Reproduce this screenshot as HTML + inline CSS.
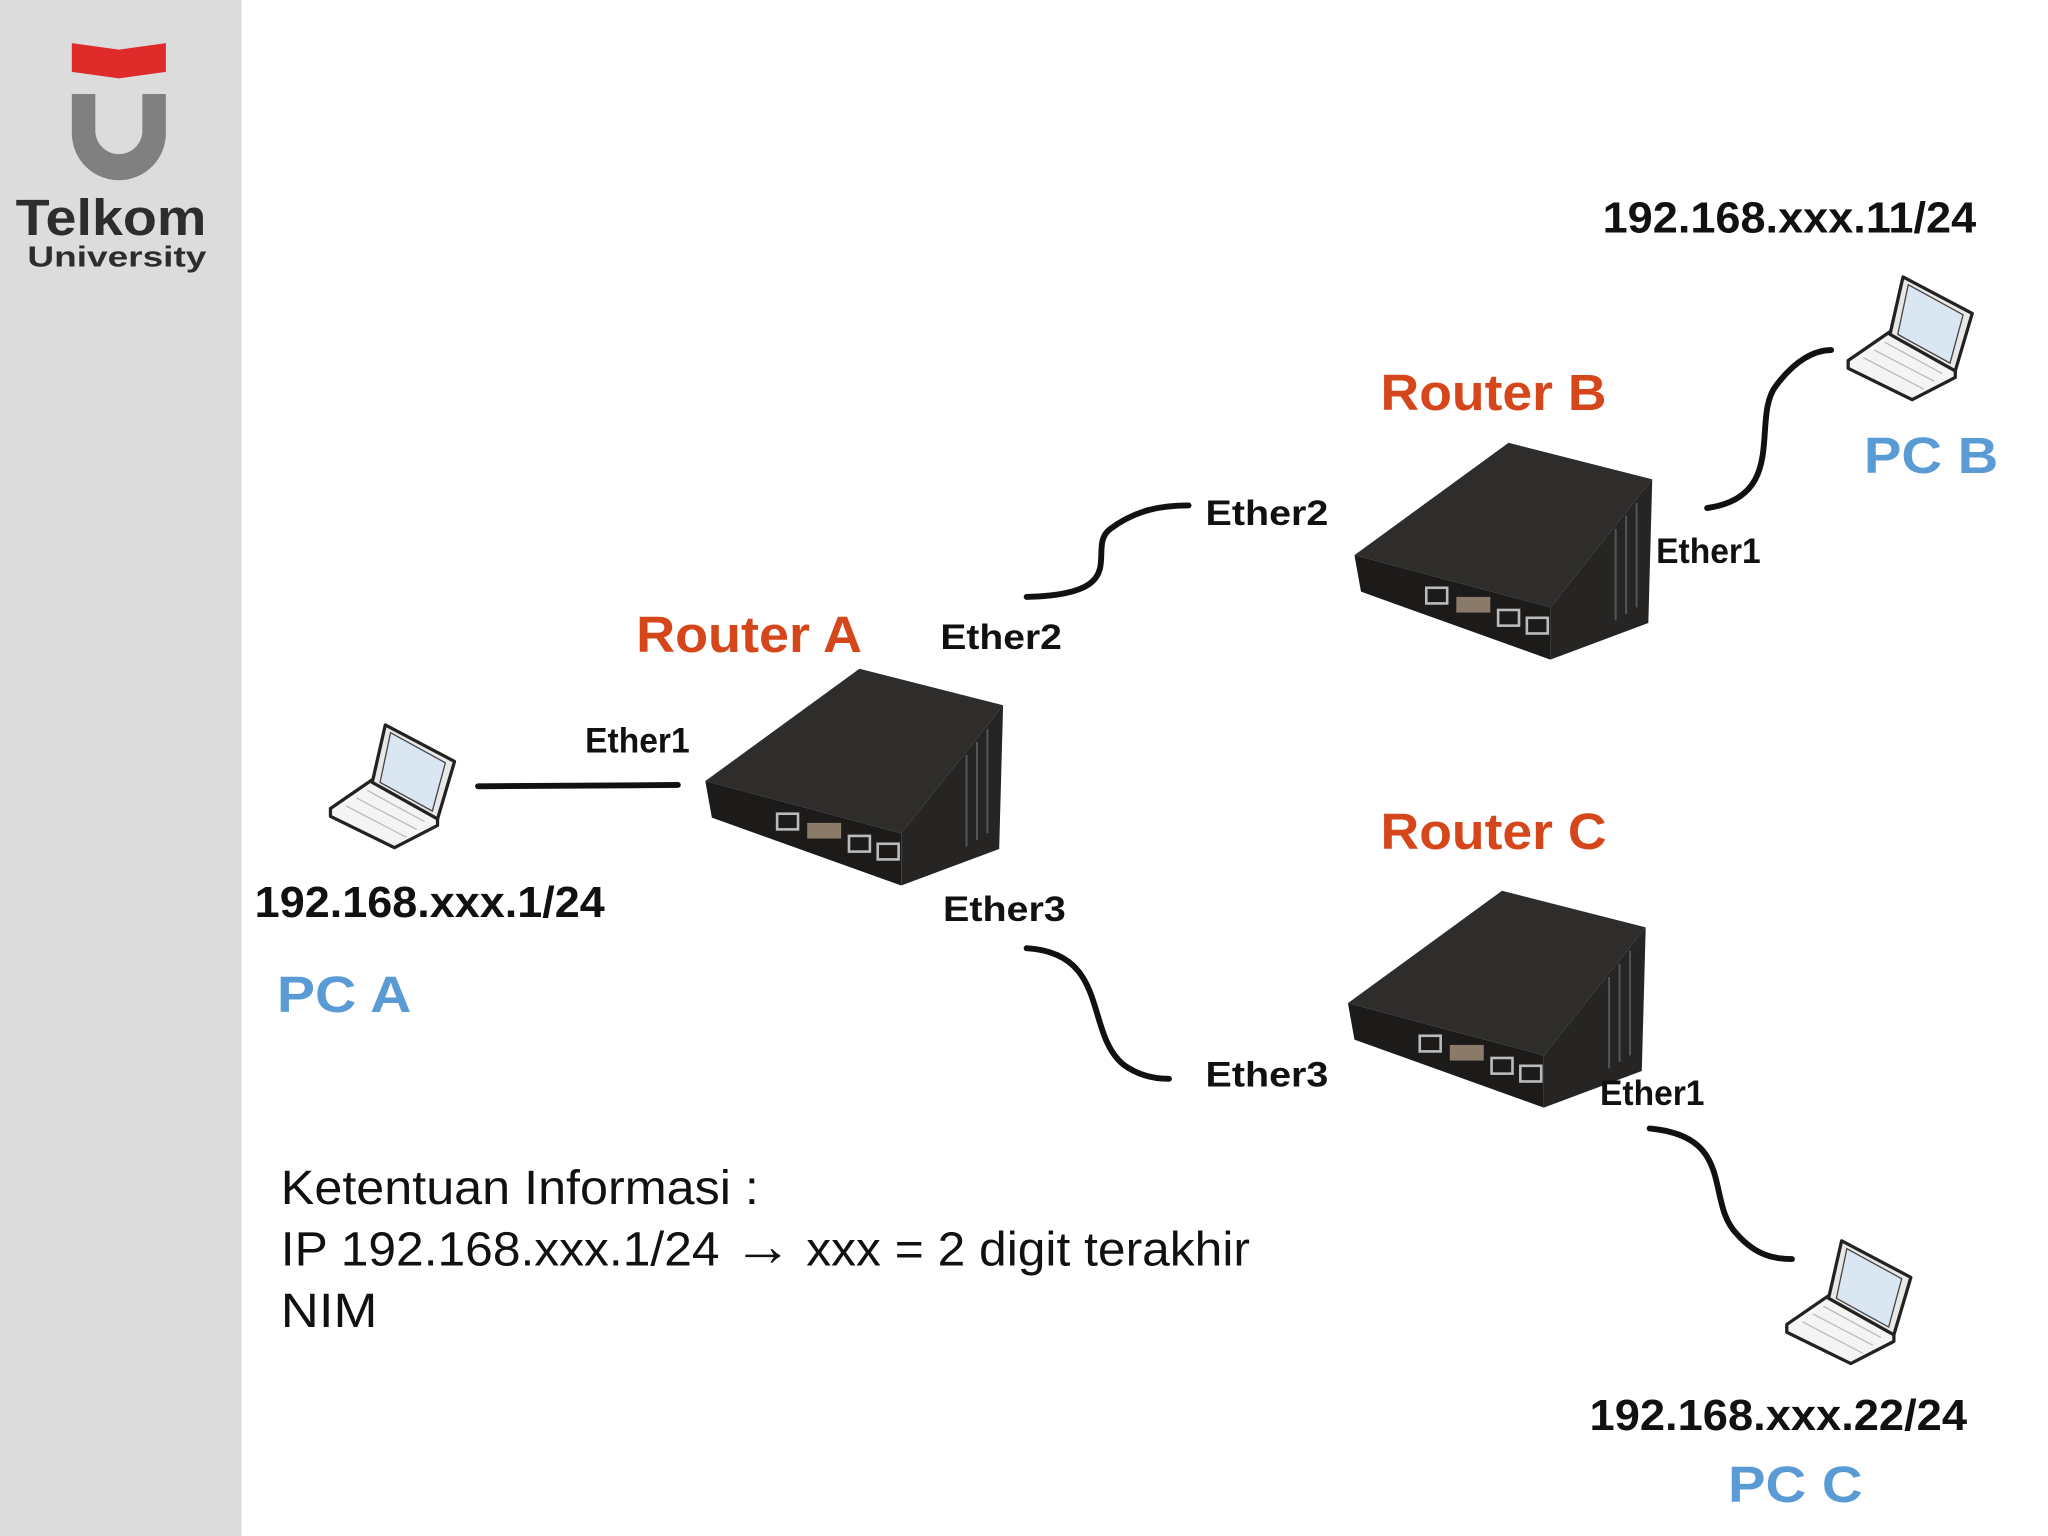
<!DOCTYPE html>
<html><head><meta charset="utf-8"><style>html,body{margin:0;padding:0;background:#fff}svg{display:block}</style></head>
<body>
<svg width="2048" height="1536" viewBox="0 0 1568 1176" xmlns="http://www.w3.org/2000/svg" font-family="Liberation Sans, Arial, sans-serif" xml:space="preserve">
<defs>
<g id="router">
  <polygon points="0,0 118,-86 228,-58 150,40" fill="#2e2d2b"/>
  <polygon points="0,0 150,40 150,80 5,28" fill="#1c1b1a"/>
  <polygon points="150,40 228,-58 225,52 150,80" fill="#262524"/>
  <g fill="none" stroke="#bbb" stroke-width="2">
    <rect x="55" y="25" width="16" height="12"/>
    <rect x="110" y="42" width="16" height="12"/>
    <rect x="132" y="48" width="16" height="12"/>
  </g>
  <rect x="78" y="32" width="26" height="12" fill="#8a7a6a"/>
  <g stroke="#555" stroke-width="1.5">
    <line x1="200" y1="-20" x2="200" y2="50"/><line x1="208" y1="-30" x2="208" y2="45"/><line x1="216" y1="-40" x2="216" y2="40"/>
  </g>
</g>
<g id="laptop">
  <polygon points="0,66 32,44 82,71 82,79 49,96 0,72" fill="#f4f4f4" stroke="#222" stroke-width="2.5" stroke-linejoin="round"/>
  <polygon points="42,2 95,30 82,74 32,46" fill="#e8e8e8" stroke="#222" stroke-width="2.5" stroke-linejoin="round"/>
  <polygon points="46,8 88,31 78,68 38,46" fill="#dbe6f3" stroke="#444" stroke-width="1"/>
  <g stroke="#bbb" stroke-width="1"><line x1="12" y1="64" x2="58" y2="88"/><line x1="20" y1="58" x2="66" y2="82"/><line x1="28" y1="52" x2="72" y2="76"/></g>
</g>
</defs>
<rect x="0" y="0" width="185" height="1176" fill="#dcdcdc"/>
<polygon points="55,33 91,38 127,33 127,55 91,60 55,55" fill="#e02b2b"/>
<path d="M55,72 H73 V100 A18,18 0 0 0 109,100 V72 H127 V102 A36,36 0 0 1 55,102 Z" fill="#808080"/>
<text x="12" y="180" font-size="39" font-weight="bold" fill="#2d2d2d" textLength="146" lengthAdjust="spacingAndGlyphs">Telkom</text>
<text x="21" y="204" font-size="22" font-weight="bold" fill="#2d2d2d" textLength="137" lengthAdjust="spacingAndGlyphs">University</text>
<g fill="none" stroke="#111" stroke-width="4.5" stroke-linecap="round">
  <line x1="366" y1="602" x2="519" y2="601"/>
  <path d="M786,457 C870,455 830,420 850,405 C870,390 890,387 910,387"/>
  <path d="M786,726 C850,730 830,790 860,815 C875,826 890,826 895,826"/>
  <path d="M1307,389 C1370,380 1340,320 1360,295 C1375,275 1390,268 1402,268"/>
  <path d="M1263,864 C1330,870 1305,920 1330,945 C1345,962 1360,964 1372,964"/>
</g>
<use href="#router" transform="translate(540,598)"/>
<use href="#router" transform="translate(1037,425)"/>
<use href="#router" transform="translate(1032,768)"/>
<use href="#laptop" transform="translate(253,553)"/>
<use href="#laptop" transform="translate(1415,210)"/>
<use href="#laptop" transform="translate(1368,948)"/>
<g font-weight="bold" fill="#d5471a" font-size="39">
  <text x="487" y="499" textLength="173" lengthAdjust="spacingAndGlyphs">Router  A</text>
  <text x="1057" y="314" textLength="173" lengthAdjust="spacingAndGlyphs">Router  B</text>
  <text x="1057" y="650" textLength="173" lengthAdjust="spacingAndGlyphs">Router  C</text>
</g>
<g font-weight="bold" fill="#111" font-size="27">
  <text x="448" y="576" textLength="80" lengthAdjust="spacingAndGlyphs">Ether1</text>
  <text x="720" y="497" textLength="93" lengthAdjust="spacingAndGlyphs">Ether2</text>
  <text x="923" y="402" textLength="94" lengthAdjust="spacingAndGlyphs">Ether2</text>
  <text x="1268" y="431" textLength="80" lengthAdjust="spacingAndGlyphs">Ether1</text>
  <text x="722" y="705" textLength="94" lengthAdjust="spacingAndGlyphs">Ether3</text>
  <text x="923" y="832" textLength="94" lengthAdjust="spacingAndGlyphs">Ether3</text>
  <text x="1225" y="846" textLength="80" lengthAdjust="spacingAndGlyphs">Ether1</text>
</g>
<g font-weight="bold" fill="#111" font-size="33">
  <text x="195" y="702" textLength="268" lengthAdjust="spacingAndGlyphs">192.168.xxx.1/24</text>
  <text x="1227" y="178" textLength="286" lengthAdjust="spacingAndGlyphs">192.168.xxx.11/24</text>
  <text x="1217" y="1095" textLength="289" lengthAdjust="spacingAndGlyphs">192.168.xxx.22/24</text>
</g>
<g font-weight="bold" fill="#5b9bd5" font-size="39">
  <text x="212" y="775" textLength="103" lengthAdjust="spacingAndGlyphs">PC  A</text>
  <text x="1427" y="362" textLength="103" lengthAdjust="spacingAndGlyphs">PC  B</text>
  <text x="1323" y="1150" textLength="103" lengthAdjust="spacingAndGlyphs">PC  C</text>
</g>
<g fill="#111" font-size="37">
  <text x="215" y="922" textLength="366" lengthAdjust="spacingAndGlyphs">Ketentuan Informasi :</text>
  <text x="215" y="969" textLength="742" lengthAdjust="spacingAndGlyphs">IP 192.168.xxx.1/24 <tspan font-size="44">→</tspan> xxx = 2 digit terakhir</text>
  <text x="215" y="1016" textLength="74" lengthAdjust="spacingAndGlyphs">NIM</text>
</g>
</svg>
</body></html>
